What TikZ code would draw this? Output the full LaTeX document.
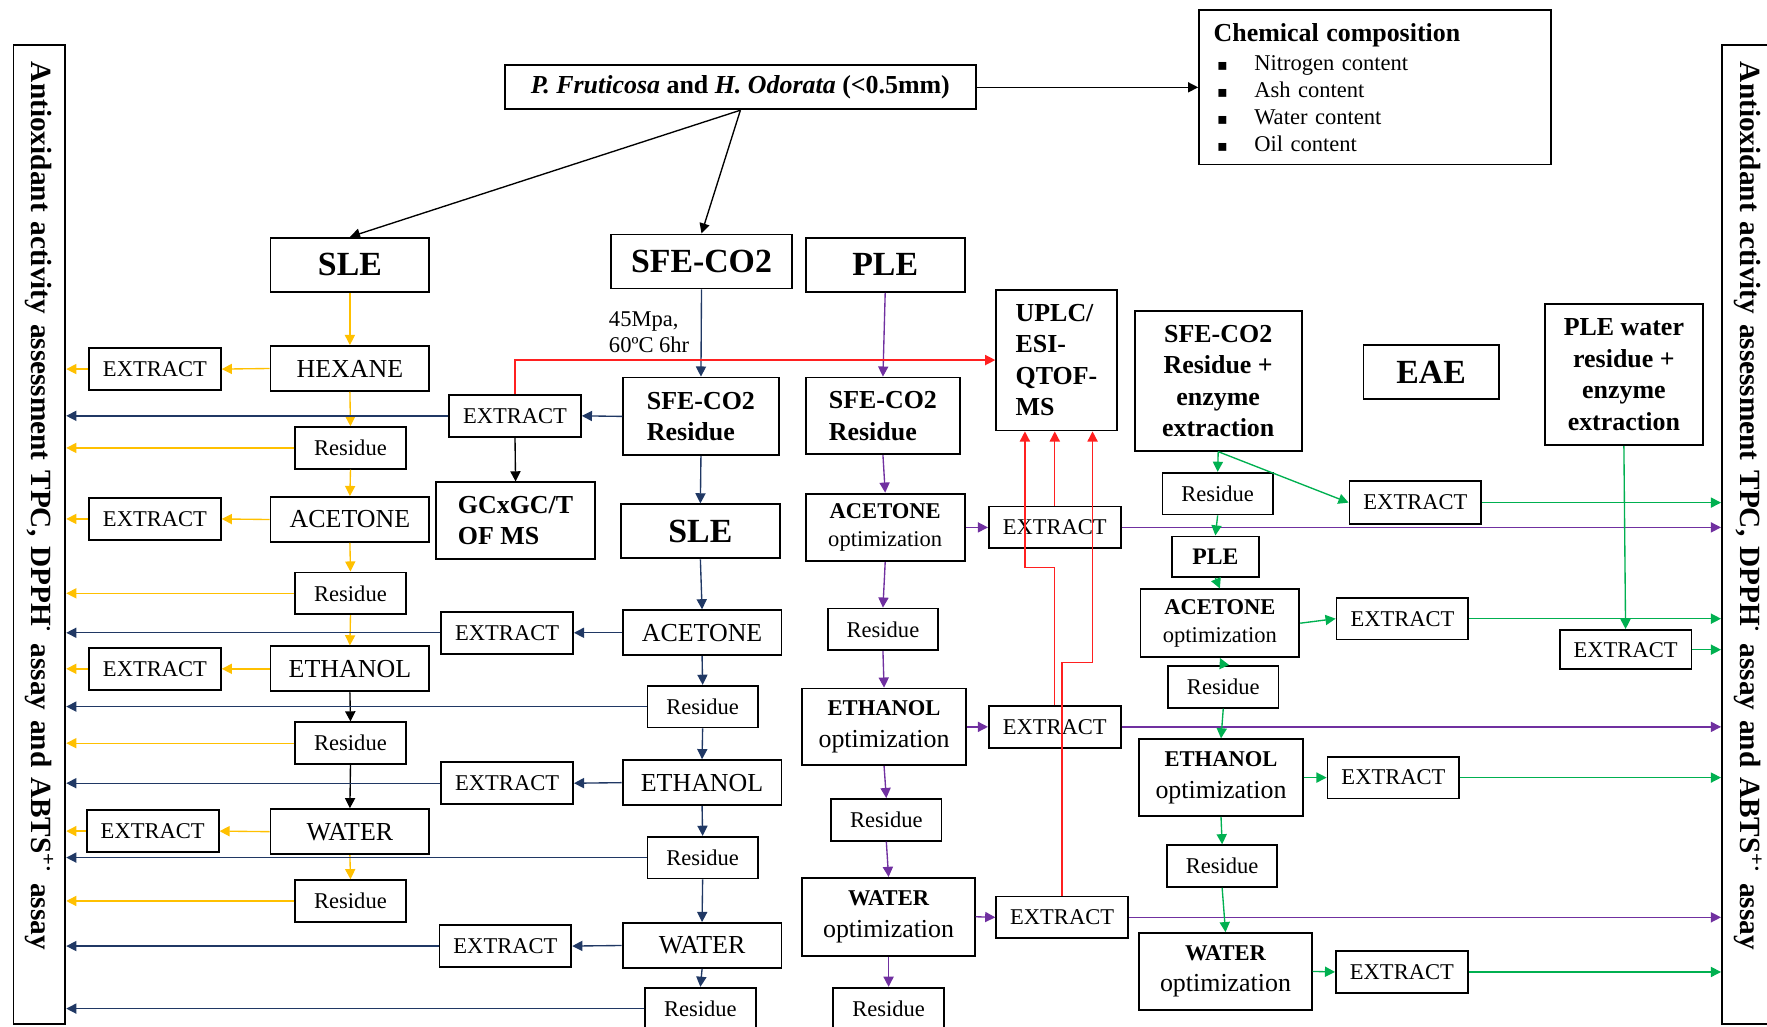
\documentclass[tikz,border=0pt]{standalone}
\usepackage{fontspec}
\setmainfont{Liberation Serif}
\newfontfamily\symfont{DejaVu Sans}
\usetikzlibrary{arrows.meta}
\definecolor{ylw}{HTML}{FFC000}
\definecolor{sfeblue}{HTML}{203864}
\definecolor{plepurple}{HTML}{7030A0}
\definecolor{eaegreen}{HTML}{00B050}
\definecolor{msred}{HTML}{FF2020}
\newcommand{\chembullet}{\hspace*{1.5pt}\makebox[16.5pt][l]{\symfont\fontsize{7}{8}\selectfont ▪}}

\begin{document}
\begin{tikzpicture}[x=0.5pt, y=-0.5pt]
        \tikzstyle{box}=[draw, line width=0.8pt, inner sep=2pt, fill=white]
        \tikzstyle{ext}=[box, minimum width=58.5pt, minimum height=18.5pt]
        \tikzstyle{res}=[box, minimum width=49pt, minimum height=18.5pt]
        \tikzstyle{solv}=[box, minimum width=70.5pt, minimum height=20pt, font=\fontsize{11.5}{14}\selectfont]
        \tikzstyle{big}=[box, minimum width=70.5pt, minimum height=24pt, font=\fontsize{15}{18}\selectfont\bfseries]
        \tikzstyle{mid}=[box, align=left, font=\fontsize{11.5}{14}\selectfont\bfseries]
        \tikzstyle{opt}=[box, align=center, font=\fontsize{10}{12.5}\selectfont]
        \tikzstyle{optbig}=[box, align=center, font=\fontsize{11.5}{14}\selectfont]
        \tikzstyle{bar}=[box, rotate=-90, minimum width=434.5pt, minimum height=23pt, text width=419.5pt, inner xsep=7.5pt, align=left, font=\fontsize{13}{15}\selectfont\bfseries]
        \tikzstyle{flow}=[-{Triangle[length=4.5pt,width=4.5pt]}, line width=0.6pt]
        \tikzstyle{blk}=[flow, color=black]
        \tikzstyle{yel}=[flow, color=ylw]
        \tikzstyle{nav}=[flow, color=sfeblue]
        \tikzstyle{pur}=[flow, color=plepurple]
        \tikzstyle{grn}=[flow, color=eaegreen]
        \tikzstyle{rd}=[flow, color=msred]
        \useasboundingbox (0,0) rectangle (1568,911);

        % side bars
        \node[bar] (lbar) at (35,474.5) {Antioxidant activity assessment TPC, DPPH\textsuperscript{·} assay and ABTS\textsuperscript{+·} assay};
        \node[bar] (rbar) at (1551,474.5) {Antioxidant activity assessment TPC, DPPH\textsuperscript{·} assay and ABTS\textsuperscript{+·} assay};

        % top
        \node[box, minimum width=209pt, minimum height=19.5pt, font=\fontsize{11.5}{14}\selectfont\bfseries] (src) at (657,77.5) {\textit{P. Fruticosa} and \textit{H. Odorata} (<0.5mm)};
        \node[box, minimum width=156pt, minimum height=68.5pt, text width=143pt, inner xsep=6.5pt, align=left] (chem) at (1220,77.5) {{\fontsize{11.5}{14}\selectfont\bfseries Chemical composition}\\[1pt]\chembullet Nitrogen content\\\chembullet Ash content\\\chembullet Water content\\\chembullet Oil content};
        \node[big] (sleL) at (310.5,235) {SLE};
        \node[big, minimum width=80.5pt] (sfe) at (622.5,232) {SFE-CO2};
        \node[big] (ple) at (785.5,235) {PLE};
        \node[big, minimum width=60pt] (eae) at (1270,330) {EAE};
        \node[anchor=west, align=left, inner sep=0pt, font=\fontsize{10}{11.5}\selectfont] (cond) at (540,294.5) {45Mpa,\\60ºC 6hr};

        % SLE column
        \node[solv] (hex) at (310.5,327) {HEXANE};
        \node[ext] (extL1) at (137.5,327.5) {EXTRACT};
        \node[res] (resL1) at (311,397.5) {Residue};
        \node[solv] (aceL) at (310.5,461) {ACETONE};
        \node[ext] (extL2) at (137.5,460.5) {EXTRACT};
        \node[res] (resL2) at (311,526.5) {Residue};
        \node[solv] (ethL) at (310.5,593.5) {ETHANOL};
        \node[ext] (extL3) at (137.5,593.5) {EXTRACT};
        \node[res] (resL3) at (311,659.5) {Residue};
        \node[solv] (watL) at (310.5,738) {WATER};
        \node[ext] (extL4) at (135.5,737.5) {EXTRACT};
        \node[res] (resL4) at (311,799.5) {Residue};

        % SFE-CO2 column
        \node[mid, minimum width=69pt, minimum height=34.5pt] (sferes) at (622,369.5) {SFE-CO2\\Residue};
        \node[ext] (extM1) at (457,369) {EXTRACT};
        \node[mid, minimum width=70.5pt, minimum height=34pt] (gc) at (457.5,462) {GCxGC/T\\OF MS};
        \node[big] (sleM) at (621.5,471.5) {SLE};
        \node[solv] (aceM) at (623,561.5) {ACETONE};
        \node[ext] (extM2) at (450,561.5) {EXTRACT};
        \node[res] (resM1) at (623.5,627) {Residue};
        \node[solv] (ethM) at (623,694.5) {ETHANOL};
        \node[ext] (extM3) at (450,695) {EXTRACT};
        \node[res] (resM2) at (623.5,761) {Residue};
        \node[solv] (watM) at (623,839) {WATER};
        \node[ext] (extM4) at (448.5,839.5) {EXTRACT};
        \node[res] (resM3) at (621.5,895) {Residue};

        % PLE column
        \node[mid, minimum width=68.5pt, minimum height=34pt] (pleres) at (783.5,369) {SFE-CO2\\Residue};
        \node[opt, minimum width=70.5pt, minimum height=30pt] (aceP) at (785.5,468) {\textbf{ACETONE}\\optimization};
        \node[res] (resP1) at (783.5,558.5) {Residue};
        \node[optbig, minimum width=72.5pt, minimum height=34pt] (ethP) at (784.5,645) {{\fontsize{10}{12}\selectfont\bfseries ETHANOL}\\optimization};
        \node[res] (resP2) at (786.5,727.5) {Residue};
        \node[optbig, minimum width=76.5pt, minimum height=34.5pt] (watP) at (788.5,813.5) {{\fontsize{10}{12}\selectfont\bfseries WATER}\\optimization};
        \node[res] (resP3) at (788.5,895) {Residue};
        \node[ext] (extP1) at (936,468) {EXTRACT};
        \node[ext] (extP2) at (936,645) {EXTRACT};
        \node[ext] (extP3) at (942.5,814) {EXTRACT};
        \node[mid, minimum width=53.5pt, minimum height=62.5pt] (uplc) at (937.5,319.5) {UPLC/\\ESI-\\QTOF-\\MS};

        % EAE column
        \node[mid, align=center, minimum width=74pt, minimum height=62pt] (enzsfe) at (1081,338) {SFE-CO2\\Residue +\\enzyme\\extraction};
        \node[mid, align=center, minimum width=70pt, minimum height=62.5pt] (enzple) at (1441,332.5) {PLE water\\residue +\\enzyme\\extraction};
        \node[res] (resE1) at (1080.5,438) {Residue};
        \node[ext, minimum height=19pt] (extE1) at (1256,446) {EXTRACT};
        \node[box, minimum width=38.5pt, minimum height=18pt, font=\fontsize{10.5}{12}\selectfont\bfseries] (pleE) at (1078.5,494) {PLE};
        \node[opt, minimum width=70.5pt, minimum height=30pt] (aceE) at (1082.5,553) {\textbf{ACETONE}\\optimization};
        \node[ext] (extE2) at (1244.5,549) {EXTRACT};
        \node[res] (resE2) at (1085.5,609.5) {Residue};
        \node[optbig, minimum width=72.5pt, minimum height=34pt] (ethE) at (1083.5,690) {{\fontsize{10}{12}\selectfont\bfseries ETHANOL}\\optimization};
        \node[ext] (extE3) at (1236.5,690) {EXTRACT};
        \node[res] (resE3) at (1084.5,768.5) {Residue};
        \node[optbig, minimum width=76.5pt, minimum height=34pt] (watE) at (1087.5,862) {{\fontsize{10}{12}\selectfont\bfseries WATER}\\optimization};
        \node[ext] (extE4) at (1244,862.5) {EXTRACT};
        \node[ext, minimum height=17.5pt] (extE5) at (1442.5,576.5) {EXTRACT};

        % source arrows
        \draw[blk] (src.east) -- (chem.west);
        \draw[blk] (src.south) -- (sleL.north);
        \draw[blk] (src.south) -- (sfe.north);

        % SLE flow
        \draw[yel] (sleL.south) -- (hex.north);
        \draw[yel] (hex.south) -- (resL1.north);
        \draw[yel] (resL1.south) -- (aceL.north);
        \draw[yel] (aceL.south) -- (resL2.north);
        \draw[yel] (resL2.south) -- (ethL.north);
        \draw[blk] (ethL.south) -- (resL3.north);
        \draw[blk] (resL3.south) -- (watL.north);
        \draw[yel] (watL.south) -- (resL4.north);
        \draw[yel] (hex.west) -- (extL1.east);
        \draw[yel] (aceL.west) -- (extL2.east);
        \draw[yel] (ethL.west) -- (extL3.east);
        \draw[yel] (watL.west) -- (extL4.east);
        \draw[yel] (extL1.west) -- (extL1.west -| lbar.north);
        \draw[yel] (extL2.west) -- (extL2.west -| lbar.north);
        \draw[yel] (extL3.west) -- (extL3.west -| lbar.north);
        \draw[yel] (extL4.west) -- (extL4.west -| lbar.north);
        \draw[yel] (resL1.west) -- (resL1.west -| lbar.north);
        \draw[yel] (resL2.west) -- (resL2.west -| lbar.north);
        \draw[yel] (resL3.west) -- (resL3.west -| lbar.north);
        \draw[yel] (resL4.west) -- (resL4.west -| lbar.north);

        % SFE-CO2 flow
        \draw[nav] (sfe.south) -- (sferes.north);
        \draw[nav] (sferes.west) -- (extM1.east);
        \draw[nav] (extM1.west) -- (extM1.west -| lbar.north);
        \draw[blk] (extM1.south) -- (gc.north);
        \draw[nav] (sferes.south) -- (sleM.north);
        \draw[nav] (sleM.south) -- (aceM.north);
        \draw[nav] (aceM.west) -- (extM2.east);
        \draw[nav] (extM2.west) -- (extM2.west -| lbar.north);
        \draw[nav] (aceM.south) -- (resM1.north);
        \draw[nav] (resM1.west) -- (resM1.west -| lbar.north);
        \draw[nav] (resM1.south) -- (ethM.north);
        \draw[nav] (ethM.west) -- (extM3.east);
        \draw[nav] (extM3.west) -- (extM3.west -| lbar.north);
        \draw[nav] (ethM.south) -- (resM2.north);
        \draw[nav] (resM2.west) -- (resM2.west -| lbar.north);
        \draw[nav] (resM2.south) -- (watM.north);
        \draw[nav] (watM.west) -- (extM4.east);
        \draw[nav] (extM4.west) -- (extM4.west -| lbar.north);
        \draw[nav] (watM.south) -- (resM3.north);
        \draw[nav] (resM3.west) -- (resM3.west -| lbar.north);

        % PLE flow
        \draw[pur] (ple.south) -- (pleres.north);
        \draw[pur] (pleres.south) -- (aceP.north);
        \draw[pur] (aceP.south) -- (resP1.north);
        \draw[pur] (resP1.south) -- (ethP.north);
        \draw[pur] (ethP.south) -- (resP2.north);
        \draw[pur] (resP2.south) -- (watP.north);
        \draw[pur] (watP.south) -- (resP3.north);
        \draw[pur] (aceP.east) -- (extP1.west);
        \draw[pur] (ethP.east) -- (extP2.west);
        \draw[pur] (watP.east) -- (extP3.west);
        \draw[pur] (extP1.east) -- (extP1.east -| rbar.south);
        \draw[pur] (extP2.east) -- (extP2.east -| rbar.south);
        \draw[pur] (extP3.east) -- (extP3.east -| rbar.south);

        % to UPLC
        \draw[rd] (extM1.north) |- (uplc.west);
        \draw[rd] (extP1.north) -- (extP1.north |- uplc.south);
        \draw[rd] (extP2.north) -- ++(0,-122) -| ([xshift=-14pt]uplc.south);
        \draw[rd] (extP3.north) -- ++(0,-207) -| ([xshift=16pt]uplc.south);

        % EAE flow
        \draw[grn] (enzsfe.south) -- (resE1.north);
        \draw[grn] (enzsfe.south) -- (extE1.west);
        \draw[grn] (extE1.east) -- (extE1.east -| rbar.south);
        \draw[grn] (resE1.south) -- (pleE.north);
        \draw[grn] (pleE.south) -- (aceE.north);
        \draw[grn] (aceE.east) -- (extE2.west);
        \draw[grn] (extE2.east) -- (extE2.east -| rbar.south);
        \draw[grn] (resE2.north) -- (aceE.south);
        \draw[grn] (resE2.south) -- (ethE.north);
        \draw[grn] (ethE.east) -- (extE3.west);
        \draw[grn] (extE3.east) -- (extE3.east -| rbar.south);
        \draw[grn] (ethE.south) -- (resE3.north);
        \draw[grn] (resE3.south) -- (watE.north);
        \draw[grn] (watE.east) -- (extE4.west);
        \draw[grn] (extE4.east) -- (extE4.east -| rbar.south);
        \draw[grn] (enzple.south) -- (extE5.north);
        \draw[grn] (extE5.east) -- (extE5.east -| rbar.south);
    \end{tikzpicture}
\end{document}
